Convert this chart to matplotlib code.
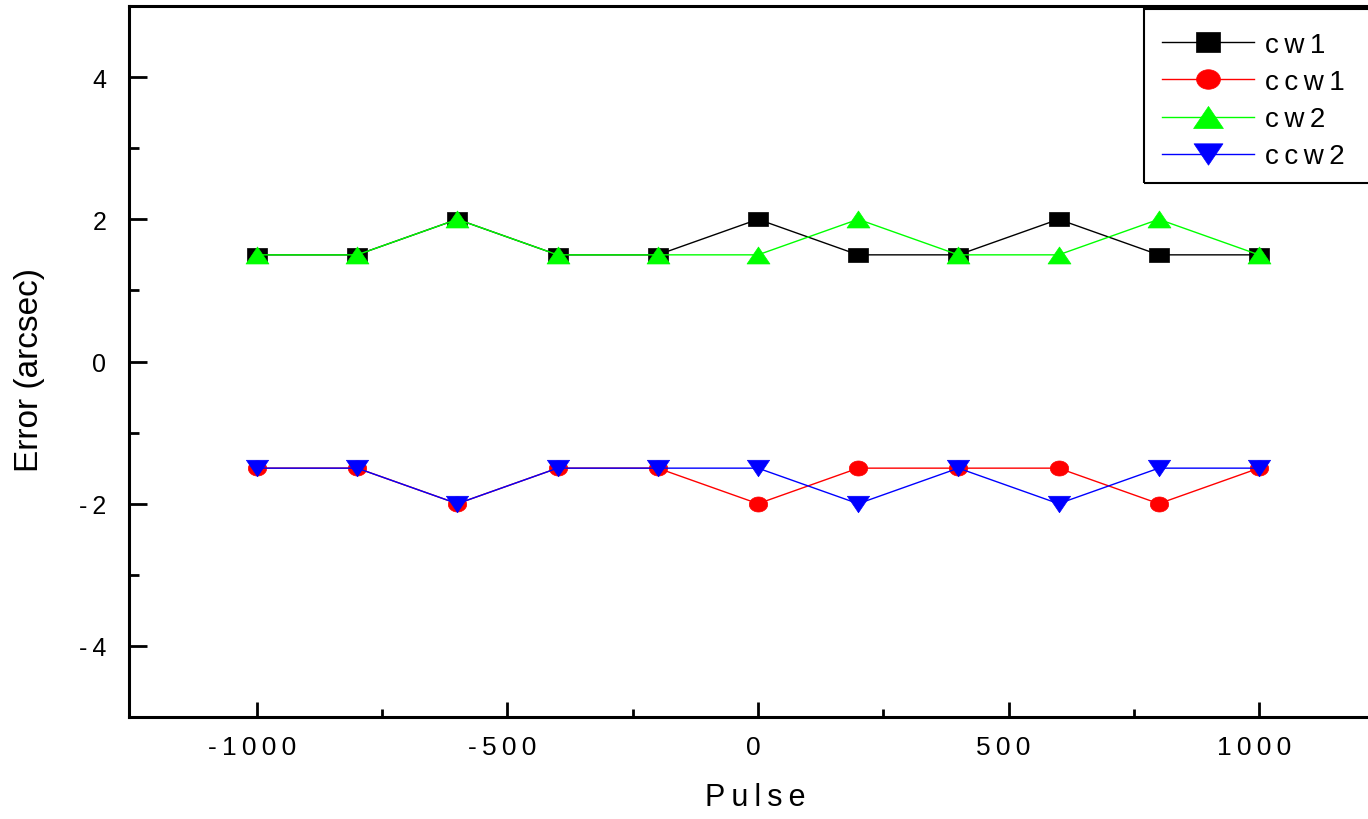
import matplotlib
matplotlib.use("Agg")
import matplotlib.pyplot as plt
from matplotlib.path import Path
from matplotlib.patches import Rectangle
from matplotlib.transforms import ScaledTranslation
import numpy as np

# ---- data ----
pulse = [-1000, -800, -600, -400, -200, 0, 200, 400, 600, 800, 1000]
cw1 = [1.5, 1.5, 2, 1.5, 1.5, 2, 1.5, 1.5, 2, 1.5, 1.5]
ccw1 = [-1.5, -1.5, -2, -1.5, -1.5, -2, -1.5, -1.5, -1.5, -2, -1.5]
cw2 = [1.5, 1.5, 2, 1.5, 1.5, 1.5, 2, 1.5, 1.5, 2, 1.5]
ccw2 = [-1.5, -1.5, -2, -1.5, -1.5, -1.5, -2, -1.5, -2, -1.5, -1.5]
series_names = ["cw1", "ccw1", "cw2", "ccw2"]
x_major = [-1000, -500, 0, 500, 1000]
x_minor = [-750, -250, 250, 750]
y_major = [-4, -2, 0, 2, 4]
y_minor = [-5, -3, -1, 1, 3, 5]

plt.rcParams['font.family'] = ['Liberation Sans', 'DejaVu Sans']

def spaced(s):
    return "\u2009".join(s)

# custom markers (slightly wider than tall)
sq = Path([(-1, -0.78), (1, -0.78), (1, 0.78), (-1, 0.78), (-1, -0.78)],
          [Path.MOVETO, Path.LINETO, Path.LINETO, Path.LINETO, Path.CLOSEPOLY])
t = np.linspace(0, 2 * np.pi, 60)
ell = Path(np.column_stack([np.cos(t), 0.82 * np.sin(t)]))
tri_up = Path([(-1, -0.74), (1, -0.74), (0, 0.74), (-1, -0.74)],
              [Path.MOVETO, Path.LINETO, Path.LINETO, Path.CLOSEPOLY])
tri_dn = Path([(-1, 0.74), (1, 0.74), (0, -0.74), (-1, 0.74)],
              [Path.MOVETO, Path.LINETO, Path.LINETO, Path.CLOSEPOLY])

fig = plt.figure(figsize=(13.68, 8.2), dpi=100)
W, H = 1368.0, 820.0
ax = fig.add_axes([128.7 / W, (H - 718) / H, (1387.3 - 128.7) / W, 711 / H])

styles = [
    (cw1, "#000000", sq, 13.7),
    (ccw1, "#ff0000", ell, 13.2),
    (cw2, "#00ff00", tri_up, 16.5),
    (ccw2, "#0000ff", tri_dn, 16.0),
]
for (vals, col, mk, ms), name in zip(styles, series_names):
    ax.plot(pulse, vals, color=col, lw=1.0, marker=mk, markersize=ms,
            markerfacecolor=col, markeredgecolor=col, markeredgewidth=0.5,
            label=spaced(name))

ax.set_xlim(-1256, 1256)
ax.set_ylim(-5, 5)
ax.set_xticks(x_major)
ax.set_xticklabels([spaced(str(v)) for v in x_major])
ax.set_xticks(x_minor, minor=True)
ax.set_yticks(y_major)
ax.set_yticklabels([spaced(str(v)) for v in y_major])
ax.set_yticks(y_minor, minor=True)

for s in ax.spines.values():
    s.set_linewidth(2.2)
ax.tick_params(axis='y', which='major', direction='in', length=13, width=2.0,
               labelsize=18, pad=16)
ax.tick_params(axis='y', which='minor', direction='in', length=7.5, width=2.0)
ax.tick_params(axis='x', which='major', direction='in', length=10.5, width=2.0,
               labelsize=19, pad=13)
ax.tick_params(axis='x', which='minor', direction='in', length=6, width=2.0)

shift = ScaledTranslation(-5 / 100, 0, fig.dpi_scale_trans)
for lbl in ax.get_xticklabels():
    lbl.set_transform(lbl.get_transform() + shift)

fig.text(755 / W, 1 - 798 / H, spaced("Pulse"), fontsize=22,
         ha='center', va='center')
fig.text(30 / W, 1 - 370 / H, "Error (arcsec)", fontsize=24,
         ha='center', va='center', rotation=90)

leg = ax.legend(loc='upper left', bbox_to_anchor=(1139 / W, 1 - 10 / H),
                bbox_transform=fig.transFigure, fontsize=20, frameon=False,
                borderaxespad=0, handlelength=3.3, handletextpad=0.4,
                labelspacing=0.4, borderpad=0.83, markerscale=1.3)

# legend frame (extends past the right edge, as in the original)
fig.add_artist(Rectangle((1144 / W, 1 - 184 / H), (1420 - 1144) / W, 174 / H,
                         transform=fig.transFigure, fill=False,
                         edgecolor='black', linewidth=1.5))

fig.savefig("out.png", dpi=100)
